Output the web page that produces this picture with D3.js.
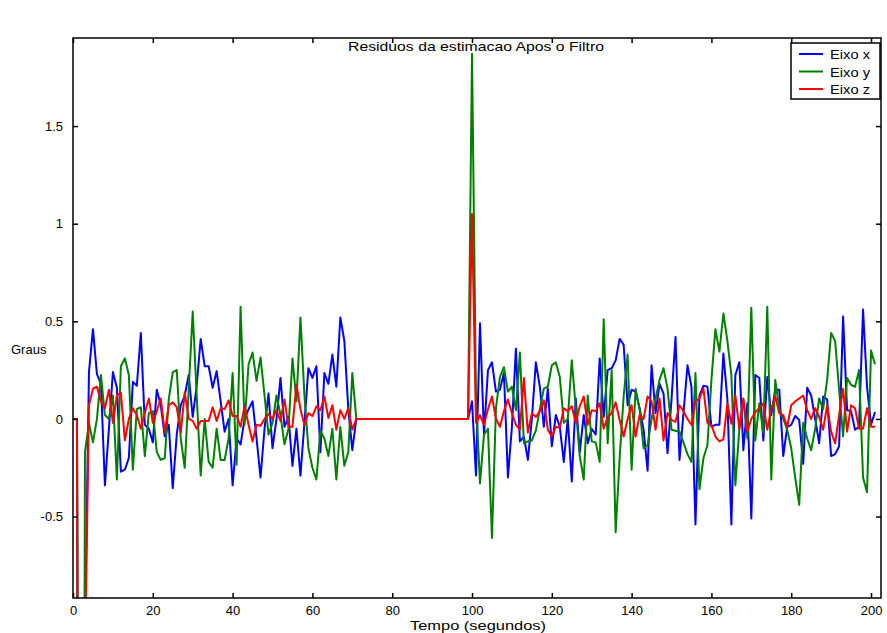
<!DOCTYPE html>
<html>
<head>
<meta charset="utf-8">
<script src="https://cdn.jsdelivr.net/npm/d3@7"></script>
<style>
  body { margin: 0; background: #fff; }
  svg text { font-family: "Liberation Sans", Arial, sans-serif; }
</style>
</head>
<body>
<div id="chart"></div>
<script>
// residuos por eixo, uma amostra por segundo (t = indice)
var eixoX = [0, 0, -8, -1.1, 0.24, 0.46, 0.23, 0.18, -0.34, -0.05,
  0.24, 0.16, -0.27, -0.26, -0.2, 0.19, 0.17, 0.44, -0.03, -0.05,
  -0.12, 0.15, 0.07, -0.09, -0.03, -0.355, -0.08, 0.07, 0.12, 0.225,
  0.01, 0.17, 0.41, 0.27, 0.27, 0.16, 0.245, 0.09, -0.065, 0,
  -0.34, -0.1, -0.13, 0, 0.05, 0.09, -0.1, -0.3, -0.05, 0.13,
  -0.15, 0, 0.21, -0.04, 0.01, -0.24, -0.05, -0.29, -0.02, 0.26,
  0.21, 0.27, -0.17, 0.235, 0.18, 0.33, 0.165, 0.52, 0.4, 0.05,
  -0.16, 0, 0, 0, 0, 0, 0, 0, 0, 0,
  0, 0, 0, 0, 0, 0, 0, 0, 0, 0,
  0, 0, 0, 0, 0, 0, 0, 0, 0, 0,
  0.09, -0.29, 0.49, -0.08, 0.25, 0.29, 0.14, 0.15, 0.235, -0.3,
  -0.04, 0.36, -0.115, -0.09, -0.21, 0, 0.29, 0.165, -0.04, 0.155,
  -0.14, 0.02, -0.04, -0.22, 0, -0.32, 0.105, -0.17, 0.02, -0.125,
  -0.05, -0.08, 0.31, 0.01, 0.25, 0.26, 0.3, 0.41, 0.38, 0.07,
  0.15, 0.14, 0.055, -0.055, -0.265, 0.275, 0.03, 0.18, 0.13, -0.175,
  0.1, 0.42, -0.21, 0.03, 0.275, 0.165, -0.54, 0.12, 0.17, 0.165,
  -0.04, -0.03, -0.03, 0.335, 0.1, -0.54, 0.225, 0.29, -0.16, 0.08,
  -0.51, 0.225, 0.21, -0.11, 0.215, 0.02, 0.15, 0.15, -0.19, -0.04,
  -0.03, 0.015, -0.005, -0.23, 0.16, 0.12, 0, -0.125, 0.115, 0.1,
  -0.19, -0.18, -0.14, 0.525, 0.045, 0.04, -0.055, -0.04, 0.56, 0.165,
  -0.03, 0.035];

var eixoY = [0, 0, -8, -0.17, -0.02, -0.12, 0, 0.225, 0.02, 0,
  0.12, -0.31, 0.27, 0.31, 0.225, -0.26, 0.05, 0.06, -0.19, 0.03,
  0.04, -0.17, -0.21, -0.2, 0.1, 0.24, 0.25, -0.1, -0.25, 0.15,
  0.55, 0.12, -0.29, 0, -0.22, -0.25, -0.05, -0.21, -0.21, -0.1,
  0.235, -0.235, 0.575, -0.03, 0.28, 0.34, 0.195, 0.315, 0.12, -0.08,
  -0.02, 0.12, 0.02, -0.13, -0.05, 0.31, 0.09, 0.52, 0.12, -0.15,
  -0.25, -0.31, -0.06, -0.1, -0.19, -0.05, -0.31, -0.04, -0.24, -0.17,
  0.235, 0, 0, 0, 0, 0, 0, 0, 0, 0,
  0, 0, 0, 0, 0, 0, 0, 0, 0, 0,
  0, 0, 0, 0, 0, 0, 0, 0, 0, 0,
  1.87, 0.1, -0.33, -0.08, -0.05, -0.61, 0.055, 0.215, 0.265, 0.14,
  0.165, 0.045, 0.34, -0.125, -0.115, -0.11, -0.06, 0.05, 0.155, 0.165,
  0.275, 0.29, 0.215, -0.02, 0, 0.3, 0.06, -0.19, -0.31, 0.12,
  -0.115, -0.12, -0.22, 0.51, -0.125, 0.25, -0.58, -0.2, 0.115, 0.33,
  -0.26, 0.155, 0.05, -0.15, -0.135, 0, 0.105, 0.2, 0.26, 0.155,
  -0.055, -0.06, -0.065, -0.12, -0.18, -0.22, 0.235, -0.36, -0.2, -0.135,
  0.2, 0.46, 0.345, 0.54, 0.4, 0.225, -0.34, -0.05, 0.1, -0.1,
  0.57, -0.11, 0.08, -0.07, 0.575, -0.31, 0.2, 0.05, 0, -0.055,
  -0.15, -0.3, -0.44, -0.02, -0.1, -0.16, -0.05, 0.105, 0.05, 0.2,
  0.44, 0.4, 0.15, -0.09, 0.21, 0.175, 0.165, 0.25, -0.3, -0.375,
  0.35, 0.28];

var eixoZ = [0, 0, -8, -1.25, 0.07, 0.155, 0.165, 0.09, 0.055, 0.15,
  -0.02, 0.12, 0.135, -0.11, 0, 0.055, 0.02, -0.05, 0.03, 0.105,
  -0.02, 0.04, 0.105, -0.07, 0.07, 0.085, 0.06, -0.07, 0.135, 0,
  -0.01, -0.05, -0.01, -0.01, -0.01, 0.06, -0.01, 0.055, 0.05, 0.095,
  0.015, 0.015, -0.04, 0.065, -0.03, -0.115, -0.03, -0.035, 0, 0.025,
  0, 0.045, -0.01, 0.1, -0.04, -0.04, 0.175, 0.05, -0.03, 0.03,
  0.015, 0.065, 0.045, 0.115, 0.005, 0.07, -0.055, 0.045, 0, 0.055,
  -0.055, 0, 0, 0, 0, 0, 0, 0, 0, 0,
  0, 0, 0, 0, 0, 0, 0, 0, 0, 0,
  0, 0, 0, 0, 0, 0, 0, 0, 0, 0,
  1.05, -0.02, 0.02, -0.03, 0.05, 0.115, 0, -0.04, 0.04, 0.1,
  0.03, -0.03, -0.055, 0.21, -0.07, 0.03, 0.01, 0.04, 0.095, -0.055,
  -0.09, -0.04, -0.045, 0.055, 0.04, 0.065, -0.02, 0.065, 0.115, -0.03,
  0.045, 0.04, 0.08, -0.05, 0.01, 0.03, 0.085, -0.005, -0.09, 0,
  0.07, -0.09, 0.02, 0, 0.115, 0.09, -0.055, 0.105, -0.11, 0.03,
  -0.005, -0.015, 0.07, 0.04, 0, -0.03, 0.09, 0.105, 0.155, -0.02,
  -0.03, -0.09, -0.115, -0.105, 0.08, -0.025, 0.12, -0.05, 0.105, -0.065,
  0, 0.035, 0.055, 0.08, -0.055, 0.05, 0.115, 0.03, 0.02, -0.04,
  0.07, 0.09, 0.105, 0.12, 0.045, 0, 0.055, 0.01, -0.055, 0.07,
  -0.065, -0.125, 0.02, 0.155, -0.065, 0.07, 0.055, -0.05, -0.05, 0.055,
  -0.04, -0.04];

var series = [
  { nome: "Eixo x", cor: "#0000ff", valores: eixoX },
  { nome: "Eixo y", cor: "#008000", valores: eixoY },
  { nome: "Eixo z", cor: "#ff0000", valores: eixoZ }
];

var xTicks = [0, 20, 40, 60, 80, 100, 120, 140, 160, 180, 200];
var yTicks = [-0.5, 0, 0.5, 1, 1.5];

// dimensoes do grafico
var W = 887, H = 633;
var box = { left: 73, right: 881, top: 38, bottom: 598 };

var svg = d3.select("#chart")
  .append("svg")
  .attr("width", W)
  .attr("height", H);

var x = d3.scaleLinear()
  .domain([0, 202.5])
  .range([box.left, box.right]);

var y = d3.scaleLinear()
  .domain([-0.917, 1.951])
  .range([box.bottom, box.top]);

svg.append("clipPath")
  .attr("id", "area")
  .append("rect")
  .attr("x", box.left)
  .attr("y", box.top)
  .attr("width", box.right - box.left)
  .attr("height", box.bottom - box.top);

// linhas
var linha = d3.line()
  .x(function (d, i) { return x(i); })
  .y(function (d) { return y(d); });

svg.append("g")
  .attr("clip-path", "url(#area)")
  .selectAll("path")
  .data(series)
  .enter()
  .append("path")
  .attr("fill", "none")
  .attr("stroke", function (d) { return d.cor; })
  .attr("stroke-width", 2)
  .attr("stroke-linejoin", "round")
  .attr("d", function (d) { return linha(d.valores); });

// eixos (ticks para dentro, estilo matlab)
var tk = 5;
var rotulo = function (d) { return String(d); };   // hifen simples como no original
svg.append("g")
  .attr("transform", "translate(0," + box.bottom + ")")
  .call(d3.axisBottom(x).tickValues(xTicks).tickSizeInner(-tk).tickSizeOuter(0).tickPadding(8).tickFormat(rotulo));
svg.append("g")
  .attr("transform", "translate(0," + box.top + ")")
  .call(d3.axisTop(x).tickValues(xTicks).tickSizeInner(-tk).tickSizeOuter(0).tickFormat(""));
svg.append("g")
  .attr("transform", "translate(" + box.left + ",0)")
  .call(d3.axisLeft(y).tickValues(yTicks).tickSizeInner(-tk).tickSizeOuter(0).tickPadding(10).tickFormat(rotulo));
svg.append("g")
  .attr("transform", "translate(" + box.right + ",0)")
  .call(d3.axisRight(y).tickValues(yTicks).tickSizeInner(-tk).tickSizeOuter(0).tickFormat(""));

svg.selectAll(".domain").remove();
svg.selectAll(".tick line").attr("stroke", "#000").attr("stroke-width", 1.5);
svg.selectAll(".tick text")
  .attr("fill", "#000")
  .style("font-size", "13px");

svg.append("rect")
  .attr("x", box.left)
  .attr("y", box.top)
  .attr("width", box.right - box.left)
  .attr("height", box.bottom - box.top)
  .attr("fill", "none")
  .attr("stroke", "#000")
  .attr("stroke-width", 1.5);

// textos
svg.append("text")
  .attr("x", 476)
  .attr("y", 51)
  .attr("text-anchor", "middle")
  .attr("textLength", 256)
  .attr("lengthAdjust", "spacingAndGlyphs")
  .style("font-size", "13px")
  .text("Residuos da estimacao Apos o Filtro");

svg.append("text")
  .attr("x", 478)
  .attr("y", 630)
  .attr("text-anchor", "middle")
  .attr("textLength", 136)
  .attr("lengthAdjust", "spacingAndGlyphs")
  .style("font-size", "13px")
  .text("Tempo (segundos)");

svg.append("text")
  .attr("x", 11)
  .attr("y", 354)
  .style("font-size", "13px")
  .text("Graus");

// legenda
var leg = svg.append("g");
leg.append("rect")
  .attr("x", 791)
  .attr("y", 43)
  .attr("width", 89)
  .attr("height", 56)
  .attr("fill", "#fff")
  .attr("stroke", "#000")
  .attr("stroke-width", 1.5);

var item = leg.selectAll(".item")
  .data(series)
  .enter()
  .append("g")
  .attr("class", "item")
  .attr("transform", function (d, i) { return "translate(0," + (54 + i * 17.5) + ")"; });
item.append("line")
  .attr("x1", 799).attr("x2", 823)
  .attr("stroke", function (d) { return d.cor; })
  .attr("stroke-width", 2);
item.append("text")
  .attr("x", 830)
  .attr("y", 5)
  .attr("textLength", 40)
  .attr("lengthAdjust", "spacingAndGlyphs")
  .style("font-size", "12px")
  .text(function (d) { return d.nome; });
</script>
</body>
</html>
